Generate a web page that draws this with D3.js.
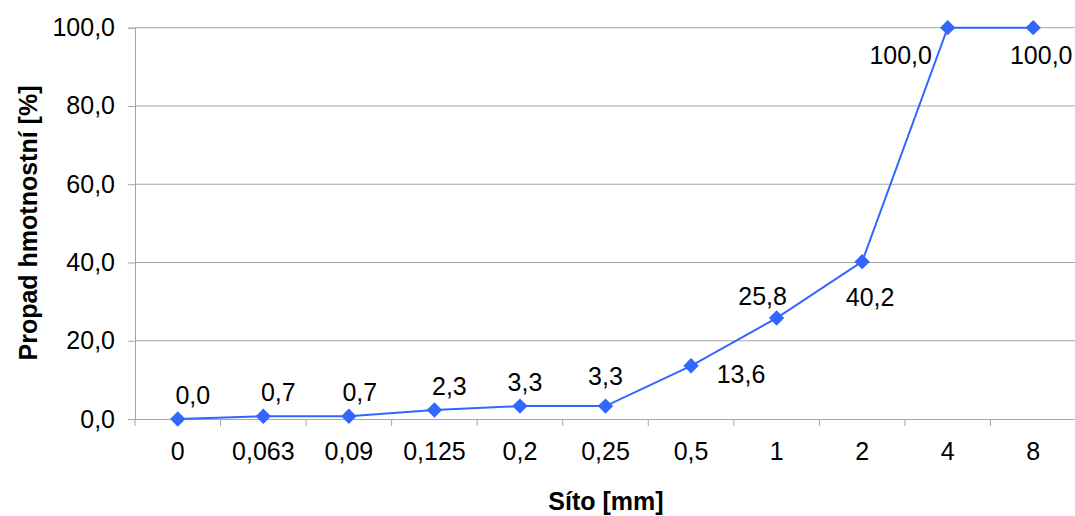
<!DOCTYPE html>
<html><head><meta charset="utf-8">
<script src="https://cdn.jsdelivr.net/npm/d3@7"></script>
<style>
html,body{margin:0;padding:0;background:#fff;}
svg{display:block;font-family:"Liberation Sans",Arial,sans-serif;}
</style></head>
<body>
<svg id="chart" width="1075" height="516"></svg>
<script>
const categories = ["0","0,063","0,09","0,125","0,2","0,25","0,5","1","2","4","8"];
const values = [0.0, 0.7, 0.7, 2.3, 3.3, 3.3, 13.6, 25.8, 40.2, 100.0, 100.0];
const yTicks = [0, 20, 40, 60, 80, 100];
const xTitle = "Síto [mm]";
const yTitle = "Propad hmotnostní [%]";

// label placement offsets (layout, not data)
const labelOffsets = [[15,-24],[15,-24],[11,-24],[15,-24],[5,-24],[0,-30],[50,8],[-14,-22],[8,35],[-47,27],[8,27]];

(function(){
const svg = d3.select("#chart");
const mLeft = 135, mRight = 1076, mTop = 27.7, mBottom = 419;
const x = d3.scaleBand().domain(categories).range([mLeft, mRight]).padding(0);
const y = d3.scaleLinear().domain([0, 100]).range([mBottom, mTop]);
const fmt = v => d3.format(".1f")(v).replace(".", ",");
const gridCol = "#a6a6a6";
const FS = 25;

// gridlines
svg.append("g").selectAll("line").data(yTicks.filter(d => d > 0)).join("line")
  .attr("x1", mLeft).attr("x2", mRight)
  .attr("y1", d => y(d)).attr("y2", d => y(d))
  .attr("stroke", gridCol).attr("stroke-width", 1);

// y axis
const yAxis = svg.append("g").attr("transform", `translate(${mLeft},0)`)
  .call(d3.axisLeft(y).tickValues(yTicks).tickSize(7).tickPadding(13).tickFormat(fmt));
yAxis.select(".domain").attr("stroke", gridCol);
yAxis.selectAll(".tick line").attr("stroke", gridCol);
yAxis.selectAll("text").attr("font-size", FS).attr("fill", "#000").attr("font-family", "Liberation Sans, Arial, sans-serif");

// x axis
const xAxis = svg.append("g").attr("transform", `translate(0,${mBottom})`)
  .call(d3.axisBottom(x).tickSize(0).tickPadding(23));
xAxis.select(".domain").attr("stroke", gridCol).attr("d", `M${mLeft},0.5H${mRight}`);
xAxis.selectAll("text").attr("font-size", FS).attr("fill", "#000").attr("font-family", "Liberation Sans, Arial, sans-serif");
// category boundary ticks
xAxis.append("g").selectAll("line").data(categories).join("line")
  .attr("x1", d => x(d)).attr("x2", d => x(d))
  .attr("y1", 0).attr("y2", 7)
  .attr("stroke", gridCol);

// line
const cx = (d, i) => x(categories[i]) + x.bandwidth() / 2;
const line = d3.line().x((d, i) => cx(d, i)).y(d => y(d));
svg.append("path").datum(values).attr("d", line)
  .attr("fill", "none").attr("stroke", "#3366ff").attr("stroke-width", 2);

// markers
svg.append("g").selectAll("path").data(values).join("path")
  .attr("d", d3.symbol().type(d3.symbolDiamond2).size(150))
  .attr("transform", (d, i) => `translate(${cx(d, i)},${y(d)})`)
  .attr("fill", "#3366ff");

// data labels
svg.append("g").selectAll("text").data(values).join("text")
  .attr("x", (d, i) => cx(d, i) + labelOffsets[i][0])
  .attr("y", (d, i) => y(d) + labelOffsets[i][1])
  .attr("text-anchor", "middle").attr("dominant-baseline", "central")
  .attr("font-size", FS).attr("fill", "#000")
  .text(d => fmt(d));

// titles
svg.append("text").attr("x", 606).attr("y", 501)
  .attr("text-anchor", "middle").attr("dominant-baseline", "central")
  .attr("font-size", 25).attr("font-weight", "bold").text(xTitle);
svg.append("text").attr("transform", "translate(28,223) rotate(-90)")
  .attr("text-anchor", "middle").attr("dominant-baseline", "central")
  .attr("font-size", 25).attr("font-weight", "bold").text(yTitle);
})();
</script>
</body></html>
